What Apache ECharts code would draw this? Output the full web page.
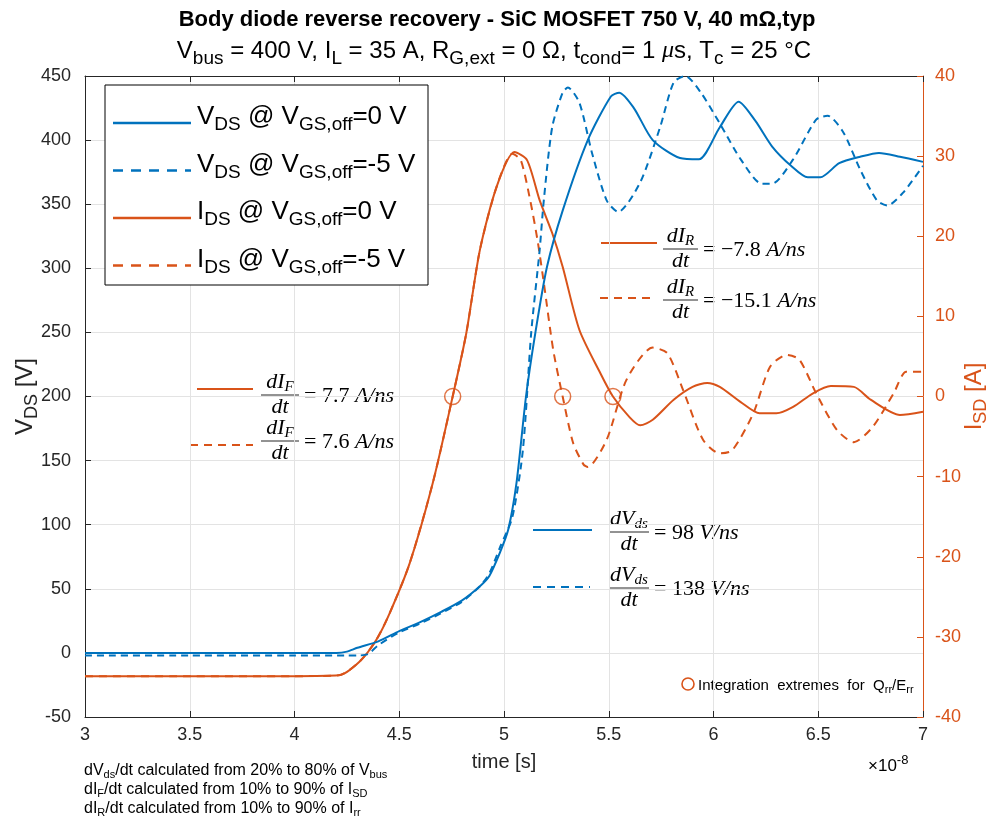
<!DOCTYPE html>
<html>
<head>
<meta charset="utf-8">
<script src="https://cdn.jsdelivr.net/npm/echarts@6/dist/echarts.min.js"></script>
<style>
  html, body { margin: 0; padding: 0; background: #fff; }
  #chart { width: 994px; height: 817px; }
</style>
</head>
<body>
<div id="chart"></div>
<script>
// time axis in units of 1e-8 s
const tV0 = [3.0, 3.5, 3.9, 4.2, 4.25, 4.3, 4.4, 4.5, 4.6, 4.7, 4.8, 4.885, 4.93, 4.98, 5.02, 5.06, 5.105, 5.15, 5.205, 5.28, 5.4, 5.51, 5.55, 5.62, 5.71, 5.84, 5.93, 6.03, 6.12, 6.2, 6.28, 6.37, 6.45, 6.51, 6.6, 6.7, 6.79, 6.89, 7.0]
const vds0 = [0, 0, 0, 0, 1, 4, 9, 17, 24, 32, 41, 52, 60, 78, 96, 133, 200, 250, 301, 345, 400, 434, 437, 425, 400, 386, 385, 410, 430, 415, 395, 380, 371, 371, 382, 387, 390, 387, 383]

const tV5 = [3.0, 3.5, 4.0, 4.25, 4.3, 4.35, 4.4, 4.5, 4.6, 4.7, 4.8, 4.885, 4.93, 4.98, 5.04, 5.09, 5.13, 5.17, 5.19, 5.23, 5.28, 5.305, 5.36, 5.42, 5.49, 5.545, 5.65, 5.745, 5.81, 5.865, 5.94, 6.03, 6.13, 6.23, 6.28, 6.38, 6.49, 6.545, 6.62, 6.7, 6.78, 6.83, 6.905, 7.0]
const vds5 = [-2, -2, -2, -2, -2, -1, 6, 16, 23, 31, 40, 52, 62, 82, 106, 158, 250, 314, 353, 410, 437, 441, 429, 390, 353, 344, 367, 410, 445, 450, 437, 413, 385, 366, 366, 385, 416, 419, 406, 377, 353, 349, 359, 380]

const tI0 = [3.0, 3.5, 4.0, 4.21, 4.31, 4.39, 4.455, 4.55, 4.66, 4.755, 4.82, 4.885, 4.965, 5.05, 5.11, 5.17, 5.23, 5.28, 5.36, 5.46, 5.52, 5.6, 5.65, 5.71, 5.81, 5.9, 5.97, 6.03, 6.13, 6.22, 6.3, 6.38, 6.475, 6.56, 6.67, 6.75, 6.89, 7.0]
const ids0 = [-34.9, -34.9, -34.9, -34.8, -33.1, -30.4, -27, -20.8, -10.8, 0, 7.9, 18.3, 26.2, 30.5, 29.5, 24.5, 20.4, 16.2, 8.3, 2.9, 0, -2.6, -3.6, -2.9, -0.4, 1.2, 1.7, 1.2, -0.7, -2.1, -2.1, -1.3, 0.4, 1.3, 1.2, -0.4, -2.3, -1.9]

const tI5 = [3.0, 3.5, 4.0, 4.21, 4.31, 4.39, 4.455, 4.55, 4.66, 4.755, 4.82, 4.885, 4.965, 5.04, 5.08, 5.125, 5.16, 5.19, 5.235, 5.28, 5.33, 5.38, 5.4, 5.49, 5.585, 5.71, 5.78, 5.855, 5.95, 6.03, 6.09, 6.19, 6.27, 6.35, 6.41, 6.49, 6.59, 6.67, 6.76, 6.86, 6.92, 7.0]
const ids5 = [-34.9, -34.9, -34.9, -34.8, -33.1, -30.4, -27, -20.8, -10.8, 0, 7.9, 18.3, 26.2, 30.3, 29.5, 24.5, 19.5, 14.2, 5.8, 0, -5.8, -8.5, -8.8, -5.4, 2.1, 6.1, 5.4, 0.8, -5.4, -7.1, -6.7, -2.1, 3.7, 5.2, 4.6, 0.4, -4.2, -5.7, -3.8, 0.4, 3.1, 3.1]

// integration extremes (time, current)
const extT = [4.755, 5.28, 5.52]
const extI = [0, 0, 0]

const blue = '#0072BD'
const orange = '#D95319'
const ink = '#262626'
const sans = '"Liberation Sans", Arial, sans-serif'
const serif = '"Liberation Serif", "DejaVu Serif", serif'

const pairs = (xs, ys) => xs.map((x, i) => [x, ys[i]])

const myChart = echarts.init(document.getElementById('chart'))

// rich styles for sub/superscripts
const richBig = {
  m: { fontSize: 26, fontFamily: sans, color: ink },
  s: { fontSize: 19, fontFamily: sans, color: ink, padding: [16, 0, 0, 0] }
}
const richMath = {
  i: { fontSize: 22, fontFamily: serif, fontStyle: 'italic', color: ink },
  s: { fontSize: 15, fontFamily: serif, fontStyle: 'italic', color: ink, padding: [11, 0, 0, 0] },
  n: { fontSize: 22, fontFamily: serif, color: ink }
}

// formula note: sample line + dX/dt = value
function note(lx1, lx2, ly, bx1, bx2, by, color, dashed, num, sub, val, unit) {
  const cx = (bx1 + bx2) / 2
  return [
    { type: 'line', shape: { x1: lx1, y1: ly, x2: lx2, y2: ly },
      style: { stroke: color, lineWidth: 2, lineDash: dashed ? [8, 6] : null } },
    { type: 'text', x: cx, y: by,
      style: { text: '{i|' + num + '}{s|' + sub + '}', rich: richMath, align: 'center', verticalAlign: 'bottom' } },
    { type: 'line', shape: { x1: bx1, y1: by, x2: bx2, y2: by }, style: { stroke: ink, lineWidth: 1 } },
    { type: 'text', x: cx, y: by + 1,
      style: { text: '{i|dt}', rich: richMath, align: 'center', verticalAlign: 'top' } },
    { type: 'text', x: bx2 + 5, y: by + 1,
      style: { text: '{n|= ' + val + ' }{i|' + unit + '}', rich: richMath, verticalAlign: 'middle' } }
  ]
}

function legendRow(y, color, dashed, who, vgs) {
  return [
    { type: 'line', shape: { x1: 113, y1: y + 6, x2: 191, y2: y + 6 },
      style: { stroke: color, lineWidth: 2.5, lineDash: dashed ? [10, 8] : null } },
    { type: 'text', x: 197, y: y,
      style: { text: '{m|' + who[0] + '}{s|' + who[1] + '}{m| @ V}{s|GS,off}{m|=' + vgs + ' V}',
        rich: richBig, verticalAlign: 'middle' } }
  ]
}

const graphics = [
  { type: 'text', x: 497, y: 20, style: {
      text: 'Body diode reverse recovery - SiC MOSFET 750 V, 40 mΩ,typ',
      font: 'bold 22px ' + sans, fill: '#000', align: 'center', verticalAlign: 'middle' } },
  { type: 'text', x: 494, y: 51, style: {
      text: '{m|V}{s|bus}{m| = 400 V, I}{s|L}{m| = 35 A, R}{s|G,ext}{m| = 0 Ω, t}{s|cond}{m|= 1 }{mi|μ}{m|s, T}{s|c}{m| = 25 °C}',
      rich: {
        m: { fontSize: 24, fontFamily: sans, color: '#000' },
        mi: { fontSize: 24, fontFamily: serif, fontStyle: 'italic', color: '#000' },
        s: { fontSize: 19, fontFamily: sans, color: '#000', padding: [15, 0, 0, 0] }
      },
      align: 'center', verticalAlign: 'middle' } },
  // legend box
  { type: 'rect', shape: { x: 105, y: 85, width: 323, height: 200 },
    style: { fill: '#fff', stroke: '#000', lineWidth: 1 }, z: 10 },
  ...[
    ...legendRow(117, blue, false, ['V', 'DS'], '0'),
    ...legendRow(164.5, blue, true, ['V', 'DS'], '-5'),
    ...legendRow(212, orange, false, ['I', 'DS'], '0'),
    ...legendRow(259.5, orange, true, ['I', 'DS'], '-5')
  ].map(el => Object.assign(el, { z: 11 })),
  // formula notes
  ...note(197, 253, 389, 261, 299, 395, orange, false, 'dI', 'F', '7.7', 'A/ns'),
  ...note(190, 253, 445, 261, 299, 441, orange, true, 'dI', 'F', '7.6', 'A/ns'),
  ...note(601, 657, 243, 663, 698, 249, orange, false, 'dI', 'R', '−7.8', 'A/ns'),
  ...note(600, 655, 298, 663, 698, 300, orange, true, 'dI', 'R', '−15.1', 'A/ns'),
  ...note(533, 592, 530, 609, 649, 532, blue, false, 'dV', 'ds', '98', 'V/ns'),
  ...note(533, 590, 587, 609, 649, 588, blue, true, 'dV', 'ds', '138', 'V/ns'),
  // integration extremes key
  { type: 'circle', shape: { cx: 688, cy: 684, r: 6 }, style: { fill: 'none', stroke: orange, lineWidth: 1.6 } },
  { type: 'text', x: 698, y: 686, style: {
      text: '{m|Integration  extremes  for  Q}{s|rr}{m|/E}{s|rr}',
      rich: {
        m: { fontSize: 15, fontFamily: sans, color: ink },
        s: { fontSize: 11, fontFamily: sans, color: ink, padding: [8, 0, 0, 0] }
      },
      verticalAlign: 'middle' } },
  // exponent
  { type: 'text', x: 868, y: 766, style: {
      text: '{m|×10}{p|-8}',
      rich: {
        m: { fontSize: 17, fontFamily: sans, color: ink },
        p: { fontSize: 13, fontFamily: sans, color: ink, padding: [0, 0, 12, 0] }
      },
      verticalAlign: 'middle' } },
  // footnotes
  ...[
    '{m|dV}{s|ds}{m|/dt calculated from 20% to 80% of V}{s|bus}',
    '{m|dI}{s|F}{m|/dt calculated from 10% to 90% of I}{s|SD}',
    '{m|dI}{s|R}{m|/dt calculated from 10% to 90% of I}{s|rr}'
  ].map((t, k) => ({
    type: 'text', x: 84, y: 771 + k * 19, style: {
      text: t,
      rich: {
        m: { fontSize: 16, fontFamily: sans, color: ink },
        s: { fontSize: 11, fontFamily: sans, color: ink, padding: [8, 0, 0, 0] }
      },
      verticalAlign: 'middle' } }))
]

const option = {
  animation: false,
  backgroundColor: '#fff',
  grid: { left: 85, right: 71, top: 76, bottom: 100, containLabel: false, outerBoundsMode: 'none' },
  xAxis: [
    {
      type: 'value', min: 3, max: 7, interval: 0.5, position: 'bottom',
      name: 'time [s]', nameLocation: 'middle', nameGap: 35, nameMoveOverlap: false,
      nameTextStyle: { fontSize: 20, fontFamily: sans, color: ink },
      axisLine: { onZero: false, lineStyle: { color: ink, width: 1 } },
      axisTick: { inside: true, length: 6, lineStyle: { color: ink } },
      axisLabel: { fontSize: 18, fontFamily: sans, color: ink, margin: 9 },
      splitLine: { show: true, lineStyle: { color: '#e3e3e3', width: 1 } }
    },
    {
      type: 'value', min: 3, max: 7, interval: 0.5, position: 'top',
      axisLine: { onZero: false, lineStyle: { color: ink, width: 1 } },
      axisTick: { inside: true, length: 6, lineStyle: { color: ink } },
      axisLabel: { show: false },
      splitLine: { show: false }
    }
  ],
  yAxis: [
    {
      type: 'value', min: -50, max: 450, interval: 50, position: 'left',
      name: '{m|V}{s|DS}{m| [V]}', nameLocation: 'middle', nameGap: 44, nameRotate: 90,
      nameMoveOverlap: false,
      nameTextStyle: {
        rich: {
          m: { fontSize: 24, fontFamily: sans, color: ink },
          s: { fontSize: 18, fontFamily: sans, color: ink, padding: [13, 0, 0, 0] }
        }
      },
      axisLine: { show: true, onZero: false, lineStyle: { color: ink, width: 1 } },
      axisTick: { show: true, inside: true, length: 6, lineStyle: { color: ink } },
      axisLabel: { fontSize: 18, fontFamily: sans, color: ink, margin: 14 },
      splitLine: { show: true, lineStyle: { color: '#e3e3e3', width: 1 } }
    },
    {
      type: 'value', min: -40, max: 40, interval: 10, position: 'right',
      name: '{m|I}{s|SD}{m| [A]}', nameLocation: 'middle', nameGap: 36, nameRotate: 90,
      nameMoveOverlap: false,
      nameTextStyle: {
        rich: {
          m: { fontSize: 24, fontFamily: sans, color: orange },
          s: { fontSize: 18, fontFamily: sans, color: orange, padding: [13, 0, 0, 0] }
        }
      },
      axisLine: { show: true, onZero: false, lineStyle: { color: orange, width: 1 } },
      axisTick: { show: true, inside: true, length: 6, lineStyle: { color: orange } },
      axisLabel: { fontSize: 18, fontFamily: sans, color: orange, margin: 12 },
      splitLine: { show: false }
    }
  ],
  series: [
    {
      name: 'VDS 0V', type: 'line', yAxisIndex: 0, data: pairs(tV0, vds0),
      showSymbol: false, smooth: 0.25, lineStyle: { color: blue, width: 2 }, z: 3
    },
    {
      name: 'VDS -5V', type: 'line', yAxisIndex: 0, data: pairs(tV5, vds5),
      showSymbol: false, smooth: 0.25, lineStyle: { color: blue, width: 2, type: [7, 5] }, z: 3
    },
    {
      name: 'IDS 0V', type: 'line', yAxisIndex: 1, data: pairs(tI0, ids0),
      showSymbol: false, smooth: 0.25, lineStyle: { color: orange, width: 2 }, z: 2
    },
    {
      name: 'IDS -5V', type: 'line', yAxisIndex: 1, data: pairs(tI5, ids5),
      showSymbol: false, smooth: 0.25, lineStyle: { color: orange, width: 2, type: [8, 6] }, z: 2
    },
    {
      name: 'extremes', type: 'scatter', yAxisIndex: 1, data: pairs(extT, extI),
      symbol: 'circle', symbolSize: 16,
      itemStyle: { color: 'rgba(0,0,0,0)', borderColor: orange, borderWidth: 1.5 }, z: 4
    }
  ],
  graphic: graphics
}

myChart.setOption(option)
</script>
</body>
</html>
